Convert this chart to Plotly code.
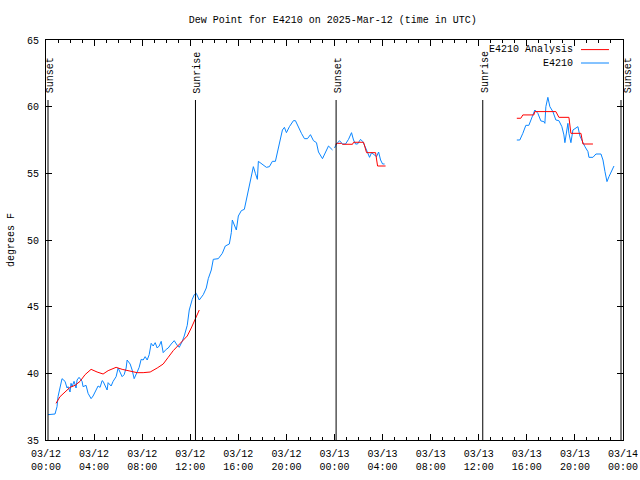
import plotly.graph_objects as go

# ---------------- data ----------------
obs_day1_times = ["00:10","00:45","00:55","01:00","01:20","01:35","01:45","01:50","02:00","02:05","02:10","02:20","02:30","02:35","02:45","03:00","03:05","03:20","03:30","03:45","03:55","04:10","04:20","04:30","04:40","04:45","04:55","05:05","05:10","05:25","05:35","05:50","06:00","06:10","06:20","06:30","06:40","06:45","07:00","07:10","07:20","07:35","07:45","07:55","08:05","08:15","08:25","08:35","08:45","08:55","09:05","09:15","09:25","09:35","09:45","10:00","10:10","10:25","10:40","10:55","11:05","11:20","11:30","11:45","11:55","12:10","12:20","12:30","12:45","13:05","13:20","13:30","13:45","13:55","14:20","14:40","14:55","15:15","15:25","15:30","15:40","15:50","16:00","16:15","16:30","16:40","16:50","17:05","17:15","17:25","17:35","17:40","18:00","18:20","18:35","18:50","19:05","19:15","19:30","19:40","19:50","20:00","20:15","20:35","20:45","20:55","21:15","21:30","21:45","22:00","22:15","22:30","22:40","23:00","23:10","23:20","23:30","23:50"]
obs_day1_values = [36.9,36.95,37.5,38.25,39.6,39.4,38.9,39.0,38.6,39.25,39.0,39.4,38.9,39.5,39.7,39.4,39.0,39.1,38.5,38.1,38.3,38.75,39.05,38.95,39.45,39.4,39.05,38.75,39.3,39.05,39.4,39.75,40.4,40.0,39.75,39.9,40.4,41.0,40.7,40.25,39.6,40.1,40.45,41.05,41.0,41.25,41.0,41.4,42.25,42.05,42.3,41.9,42.05,42.4,41.55,41.8,41.9,42.2,42.45,42.1,41.95,42.4,42.8,43.6,44.75,45.55,45.9,46.0,45.5,45.9,46.4,47.1,47.75,48.55,48.6,49.0,49.55,49.7,50.55,51.5,51.1,50.75,51.8,52.2,52.3,53.0,53.75,54.8,55.5,55.0,54.55,55.9,55.7,55.45,55.5,55.9,55.9,56.6,57.4,58.25,58.45,58.05,58.5,58.95,58.95,58.6,58.0,57.6,57.6,57.9,57.45,57.3,56.6,56.1,56.45,56.8,57.05,56.75]

obs_day2a_times = ["00:00","00:10","00:25","00:40","00:55","01:10","01:25","01:35","01:45","01:55","02:10","02:20","02:30","02:40","02:50","02:55","03:05","03:15","03:30","03:40","03:50","04:00","04:10"]
obs_day2a_values = [56.9,57.2,57.45,57.2,57.2,57.55,58.05,57.5,57.2,57.2,57.55,57.4,57.1,56.75,56.5,56.2,56.55,56.4,56.25,56.6,56.0,55.7,55.7]

obs_day2b_times = ["15:10","15:25","15:40","15:55","16:10","16:25","16:40","16:55","17:10","17:25","17:30","17:35","17:45","17:55","18:10","18:25","18:40","18:55","19:05","19:10","19:25","19:30","19:40","19:50","20:00","20:15","20:25","20:40","20:50","21:05","21:10","21:30","21:45","22:10","22:20","22:30","22:40","22:50","23:05","23:15"]
obs_day2b_values = [57.5,57.5,58.0,58.6,58.6,59.13,59.75,59.5,58.93,58.88,58.75,60.0,60.7,60.0,59.63,59.0,58.95,58.5,57.88,57.3,58.75,58.0,57.3,58.25,58.38,58.5,57.8,57.3,57.0,56.63,56.2,56.2,56.45,56.45,56.0,55.13,54.38,54.75,55.2,55.55]

ana_day1_times = ["00:50","01:10","01:35","02:00","02:25","02:50","03:15","03:45","04:15","04:45","05:10","05:50","06:20","06:50","07:35","08:05","08:40","09:15","09:45","10:10","10:35","11:10","11:45","12:05","12:25","12:45"]
ana_day1_values = [37.75,38.25,38.6,38.95,39.1,39.4,39.9,40.3,40.1,39.95,40.2,40.45,40.3,40.2,40.05,40.05,40.1,40.4,40.7,41.2,41.7,42.25,42.8,43.4,44.1,44.75]

ana_day2a_times = ["00:05","00:15","00:35","00:40","01:30","01:35","02:25","02:40","03:25","03:35","04:15"]
ana_day2a_values = [57.18,57.25,57.25,57.18,57.18,57.33,57.33,56.55,56.55,55.55,55.55]

ana_day2b_times = ["15:10","15:30","15:40","16:35","16:40","18:25","18:40","19:30","19:40","20:30","20:40","21:30"]
ana_day2b_values = [59.13,59.13,59.38,59.38,59.63,59.63,59.2,59.2,58.0,58.0,57.2,57.2]

event_times = ["2025-03-12 00:10", "2025-03-12 12:26", "2025-03-13 00:08", "2025-03-13 12:20", "2025-03-13 23:50"]
event_labels = ["Sunset", "Sunrise", "Sunset", "Sunrise", "Sunset"]

tick_vals = ["2025-03-12 00:00","2025-03-12 04:00","2025-03-12 08:00","2025-03-12 12:00","2025-03-12 16:00","2025-03-12 20:00",
             "2025-03-13 00:00","2025-03-13 04:00","2025-03-13 08:00","2025-03-13 12:00","2025-03-13 16:00","2025-03-13 20:00",
             "2025-03-14 00:00"]
tick_text = ["03/12<br>00:00","03/12<br>04:00","03/12<br>08:00","03/12<br>12:00","03/12<br>16:00","03/12<br>20:00",
             "03/13<br>00:00","03/13<br>04:00","03/13<br>08:00","03/13<br>12:00","03/13<br>16:00","03/13<br>20:00",
             "03/14<br>00:00"]

title_text = "Dew Point for E4210 on 2025-Mar-12 (time in UTC)"
y_title = "degrees F"
name_obs = "E4210"
name_ana = "E4210 Analysis"

# ------------- assemble series (None marks gaps) -------------
def join(parts):
    xs, ys = [], []
    for i, (day, ts, vs) in enumerate(parts):
        assert len(ts) == len(vs)
        if i > 0:
            xs.append(day + " " + ts[0])
            ys.append(None)
        xs += [day + " " + t for t in ts]
        ys += vs
    return xs, ys

obs_x, obs_y = join([("2025-03-12", obs_day1_times, obs_day1_values),
                     ("2025-03-13", obs_day2a_times, obs_day2a_values),
                     ("2025-03-13", obs_day2b_times, obs_day2b_values)])
ana_x, ana_y = join([("2025-03-12", ana_day1_times, ana_day1_values),
                     ("2025-03-13", ana_day2a_times, ana_day2a_values),
                     ("2025-03-13", ana_day2b_times, ana_day2b_values)])

RED = "#ff0000"
BLUE = "#0a86ff"
FONT = "Liberation Mono"

fig = go.Figure()
fig.add_trace(go.Scatter(x=obs_x, y=obs_y, mode="lines", name=name_obs,
                         line=dict(color=BLUE, width=1), connectgaps=False))
fig.add_trace(go.Scatter(x=ana_x, y=ana_y, mode="lines", name=name_ana,
                         line=dict(color=RED, width=1), connectgaps=False))

# sunrise / sunset markers
n_ev = len(event_times)
for i, (t, lab) in enumerate(zip(event_times, event_labels)):
    fig.add_shape(type="line", xref="x", yref="paper", x0=t, x1=t, y0=0, y1=0.85,
                  line=dict(color="black", width=1))
    fig.add_annotation(x=t, xref="x", y=0.862, yref="paper", text=lab, textangle=-90,
                       showarrow=False, xanchor="center", yanchor="bottom",
                       xshift=(7 if i == n_ev - 1 else 2),
                       font=dict(family=FONT, size=10, color="black"))

# manual legend (gnuplot style: text right-aligned, sample on the right)
legend_rows = [(name_ana, RED, 0.976), (name_obs, BLUE, 0.9425)]
for txt, col, yy in legend_rows:
    fig.add_annotation(x=0.9168, y=yy, xref="paper", yref="paper", text=txt, showarrow=False,
                       xanchor="right", yanchor="middle", font=dict(family=FONT, size=10, color="black"))
    fig.add_shape(type="line", xref="paper", yref="paper", x0=0.9272, x1=0.9757, y0=yy, y1=yy,
                  line=dict(color=col, width=1))

fig.update_layout(
    width=640, height=480,
    margin=dict(l=46, r=17, t=40, b=40, autoexpand=False),
    paper_bgcolor="white", plot_bgcolor="white",
    showlegend=False,
    font=dict(family=FONT, size=10, color="black"),
    title=dict(text=title_text, x=0.52, xanchor="center", y=0.96, yanchor="middle",
               font=dict(family=FONT, size=10, color="black")),
)
fig.update_xaxes(type="date", range=["2025-03-12 00:00", "2025-03-14 00:00"], automargin=False,
                 tickvals=tick_vals, ticktext=tick_text,
                 ticks="inside", ticklen=6, tickcolor="black", tickwidth=1,
                 showline=True, linecolor="black", linewidth=1, mirror="ticks",
                 showgrid=False, zeroline=False, ticklabelstandoff=4,
                 minor=dict(dtick=3600000, tick0="2025-03-12 00:00", ticks="inside", ticklen=3,
                            tickcolor="black", showgrid=False),
                 tickfont=dict(family=FONT, size=10, color="black"))
fig.update_yaxes(range=[35, 65], dtick=5, tick0=35, automargin=False,
                 ticks="inside", ticklen=6, tickcolor="black", tickwidth=1,
                 showline=True, linecolor="black", linewidth=1, mirror="ticks",
                 showgrid=False, zeroline=False, ticklabelstandoff=4,
                 title=dict(text=y_title, standoff=10, font=dict(family=FONT, size=10, color="black")),
                 tickfont=dict(family=FONT, size=10, color="black"))

fig.write_html("out.html", config={"displayModeBar": False},
               post_script="document.body.style.margin='0px';")
